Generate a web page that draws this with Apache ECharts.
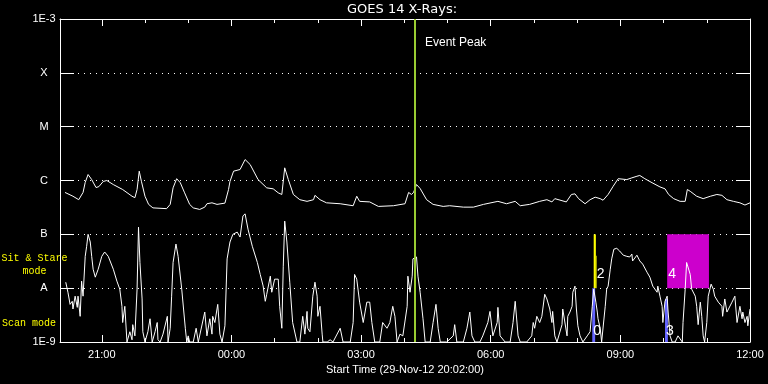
<!DOCTYPE html>
<html>
<head>
<meta charset="utf-8">
<script src="https://cdn.jsdelivr.net/npm/echarts@6/dist/echarts.min.js"></script>
<style>
html,body{margin:0;padding:0;background:#000;}
#main{width:768px;height:384px;}
</style>
</head>
<body>
<div id="main"></div>
<script>
// ---------------- data ----------------
const chartTitle = 'GOES 14 X-Rays:';
const xAxisTitle = 'Start Time (29-Nov-12 20:02:00)';
const startTime = '20:02';
const endTime = '12:00';
const xTickLabels = ['21:00', '00:00', '03:00', '06:00', '09:00', '12:00'];
const yTickValues = [1e-9, 1e-8, 1e-7, 1e-6, 1e-5, 1e-4, 1e-3];
const yTickLabels = ['1E-9', 'A', 'B', 'C', 'M', 'X', '1E-3'];
const eventPeakTime = '04:15';
const eventPeakText = 'Event Peak';
const modeLabels = ['Sit & Stare', 'mode', 'Scan mode'];

// long channel (upper curve), W/m^2
const longTimes = [
 '20:09','20:20','20:28','20:34','20:37','20:41','20:46','20:52','20:56',
 '21:02','21:07','21:16','21:29','21:42','21:46','21:49','21:52','21:55',
 '22:00','22:05','22:11','22:30','22:35','22:39','22:44','22:49','22:55',
 '23:02','23:07','23:16','23:23','23:26','23:33','23:40','23:51','23:56','23:58',
 '00:03','00:12','00:19','00:26','00:37','00:49','00:58',
 '01:05','01:10','01:14','01:19','01:26','01:35','01:45','01:54','01:56',
 '02:03','02:12','02:31','02:49','02:54','02:58',
 '03:12','03:24','03:45',
 '04:01','04:06','04:10','04:13','04:17','04:22','04:31','04:40','04:54',
 '05:03','05:22','05:36','05:50',
 '06:10','06:22','06:34','06:41','06:54',
 '07:08','07:18','07:25','07:29','07:45','07:52','07:57',
 '08:02','08:11','08:18','08:25','08:32','08:36','08:43','08:50','08:57',
 '09:09','09:16','09:23','09:27','09:34','09:44','09:55',
 '10:02','10:07','10:14','10:23','10:30','10:33','10:37','10:46','10:55',
 '11:05','11:14','11:21','11:28','11:37','11:46','11:53','12:00'
];
const longFlux = [
 6.0e-7,5.1e-7,4.4e-7,6.0e-7,9.2e-7,1.29e-6,1.04e-6,7.4e-7,7.7e-7,
 9.6e-7,1.0e-6,8.4e-7,6.8e-7,5.1e-7,4.8e-7,6.8e-7,1.49e-6,9.7e-7,
 5.1e-7,3.6e-7,3.1e-7,3.0e-7,3.6e-7,7.3e-7,1.08e-6,9.1e-7,5.9e-7,
 3.6e-7,3.1e-7,2.9e-7,3.2e-7,3.7e-7,3.85e-7,3.6e-7,3.8e-7,6.8e-7,9.6e-7,
 1.49e-6,1.6e-6,2.45e-6,1.98e-6,1.04e-6,7.3e-7,7.0e-7,
 5.9e-7,5.5e-7,1.72e-6,1.04e-6,5.5e-7,4.4e-7,4.1e-7,4.4e-7,5.3e-7,
 4.4e-7,3.85e-7,3.7e-7,3.4e-7,5.1e-7,4.1e-7,
 4.0e-7,3.3e-7,3.4e-7,
 3.7e-7,6.0e-7,5.5e-7,6.05e-7,8.4e-7,7.1e-7,4.4e-7,3.6e-7,3.3e-7,
 3.4e-7,3.2e-7,3.2e-7,3.6e-7,
 4.1e-7,3.7e-7,4.1e-7,3.4e-7,3.6e-7,
 4.1e-7,4.4e-7,4.0e-7,4.6e-7,4.0e-7,5.5e-7,5.65e-7,
 4.6e-7,3.7e-7,4.4e-7,4.9e-7,4.6e-7,4.3e-7,5.5e-7,7.8e-7,1.08e-6,
 1.04e-6,1.12e-6,1.2e-6,1.24e-6,1.08e-6,9.1e-7,7.6e-7,
 7.0e-7,5.5e-7,4.6e-7,4.1e-7,4.1e-7,6.8e-7,6.3e-7,5.1e-7,4.6e-7,
 5.1e-7,5.5e-7,5.3e-7,4.4e-7,4.1e-7,3.85e-7,3.5e-7,3.85e-7
];

// short channel (lower curve), W/m^2
const shortTimes = [
 '20:10','20:12','20:13','20:16','20:19','20:20','20:23','20:26','20:27','20:30',
 '20:32','20:34','20:37','20:39','20:41','20:44','20:46','20:48','20:51','20:55',
 '21:00','21:04','21:09','21:16','21:21','21:25','21:28','21:29','21:32','21:35',
 '21:39','21:42','21:43','21:46','21:49','21:51','21:53','21:56','21:57',
 '22:00','22:04','22:07','22:10','22:14','22:17','22:18','22:21','22:25','22:31',
 '22:32','22:35','22:37','22:39','22:43','22:46','22:51','22:56','22:58',
 '23:00','23:02','23:07','23:11','23:14','23:16','23:23','23:26','23:30','23:33',
 '23:34','23:37','23:41','23:44','23:47','23:51','23:54','23:58',
 '00:02','00:08','00:12','00:16','00:19','00:23','00:29','00:36','00:40','00:44',
 '00:47','00:49','00:54','00:56',
 '01:00','01:05','01:07','01:10','01:12','01:14','01:17','01:21','01:25','01:31',
 '01:35','01:39','01:42','01:45','01:46','01:49','01:53','01:56','01:59',
 '02:00','02:03','02:06','02:07','02:13','02:17','02:21','02:31','02:35','02:45',
 '02:49','02:51','02:54','02:58',
 '03:03','03:08','03:12','03:15','03:19','03:26','03:30','03:36','03:40','03:44',
 '03:47','03:50','03:54','03:58',
 '04:04','04:05','04:08','04:11','04:12','04:17','04:19','04:22','04:26','04:29',
 '04:36','04:40','04:44','04:47','04:50','04:59',
 '05:08','05:10','05:13','05:22','05:27','05:31','05:34','05:38','05:45','05:49',
 '05:56','05:59',
 '06:03','06:09','06:10','06:13','06:20','06:27','06:31','06:34','06:36','06:38',
 '06:41','06:50','06:57','06:59',
 '07:01','07:04','07:08','07:11','07:15','07:18','07:22','07:25','07:26','07:29',
 '07:32','07:39','07:40','07:46','07:47','07:50','07:53','07:54','07:57','07:59',
 '08:01','08:04','08:08','08:14','08:18','08:21','08:23','08:26','08:28','08:29',
 '08:32','08:34','08:36','08:39','08:41','08:43','08:46','08:48','08:51','08:55',
 '08:59',
 '09:04','09:09','09:13','09:16','09:17','09:23','09:24','09:27','09:31','09:37',
 '09:41','09:45','09:51','09:52','09:55','09:58','09:59',
 '10:02','10:05','10:06','10:09','10:12','10:16','10:20','10:26','10:27','10:30',
 '10:32','10:37','10:39','10:44','10:46','10:48','10:51','10:53','10:55','10:57',
 '11:00','11:02','11:06','11:09','11:11','11:16','11:21','11:22','11:25','11:28',
 '11:35','11:39','11:42','11:46','11:49','11:50','11:53','11:56','11:57','12:00'
];
const shortFlux = [
 1.29e-8,1.35e-8,8.4e-9,5.0e-9,5.7e-9,4.1e-9,7.1e-9,4.4e-9,7.1e-9,3.0e-9,
 1.35e-8,7.1e-9,3.9e-8,6.0e-8,1.0e-7,7.2e-8,3.9e-8,2.25e-8,1.6e-8,2.25e-8,
 3.9e-8,4.7e-8,3.9e-8,2.25e-8,1.35e-8,9.6e-9,4.6e-9,2.3e-9,4.6e-9,1e-9,
 1.55e-9,1.1e-9,2.1e-9,1.3e-9,9.6e-9,1.36e-7,3.0e-8,6.3e-9,1.55e-9,
 1e-9,1.55e-9,2.7e-9,1e-9,1.55e-9,2.3e-9,1.1e-9,1e-9,1.4e-9,3.0e-9,
 1e-9,1.8e-9,7.1e-9,3.0e-8,6.6e-8,3.9e-8,9.6e-9,1.8e-9,1e-9,
 1.3e-9,1e-9,1e-9,1.8e-9,1e-9,1e-9,3.6e-9,1.3e-9,2.7e-9,1.4e-9,
 3.0e-9,2.3e-9,5.0e-9,1.4e-9,1e-9,2.0e-9,3.5e-8,7.2e-8,
 1.0e-7,1.1e-7,8.9e-8,2.2e-7,2.4e-7,1.25e-7,6.0e-8,3.0e-8,1.8e-8,1.1e-8,
 5.7e-9,7.7e-9,1.67e-8,8.4e-9,
 1.47e-8,1.47e-8,4.6e-9,1.8e-9,2.56e-8,1.76e-7,7.2e-8,1.29e-8,2.3e-9,1e-9,
 1e-9,3.0e-9,1.4e-9,3.7e-9,1.8e-9,1.55e-9,7.1e-9,1.29e-8,7.1e-9,
 3.0e-9,4.6e-9,1.4e-9,1e-9,1e-9,1.1e-9,1e-9,1.8e-9,1e-9,1e-9,
 2.3e-9,1.8e-8,1.47e-8,5.5e-9,
 2.3e-9,5.5e-9,5.5e-9,2.3e-9,1e-9,1e-9,2.3e-9,1.8e-9,2.3e-9,4.6e-9,
 3.0e-9,1e-9,1.4e-9,1.3e-9,
 4.6e-9,1.67e-8,8.4e-9,1.67e-8,3.5e-8,3.8e-8,1.67e-8,8.4e-9,2.7e-9,1e-9,
 1e-9,2.3e-9,5.0e-9,1.8e-9,1e-9,1e-9,
 1.3e-9,2.1e-9,1e-9,1e-9,1.8e-9,3.6e-9,1.3e-9,1e-9,1e-9,1.3e-9,
 2.3e-9,3.7e-9,
 1.3e-9,2.3e-9,4.4e-9,1.3e-9,1e-9,1e-9,2.3e-9,5.7e-9,5.5e-9,1.3e-9,
 1e-9,1e-9,1.3e-9,2.3e-9,
 1.8e-9,3.0e-9,2.3e-9,3.0e-9,7.7e-9,6.3e-9,4.1e-9,2.3e-9,3.7e-9,1.3e-9,
 1e-9,2.1e-9,4.1e-9,1.3e-9,3.0e-9,3.6e-9,4.6e-9,8.4e-9,1.09e-8,4.1e-9,
 2.0e-9,1.3e-9,1e-9,1.3e-9,1.55e-9,4.6e-9,9.6e-9,5.5e-9,3.6e-9,2.7e-9,
 1.8e-9,1e-9,1e-9,4.6e-9,9.6e-9,1.09e-8,2.25e-8,3.5e-8,5.3e-8,5.5e-8,
 4.9e-8,
 4.1e-8,3.9e-8,3.8e-8,4.3e-8,3.2e-8,4.1e-8,3.9e-8,3.2e-8,2.8e-8,1.98e-8,
 1.6e-8,1.09e-8,8.4e-9,1.09e-8,7.1e-9,4.6e-9,2.3e-9,
 5.7e-9,7.1e-9,4.1e-9,1.3e-9,1e-9,1e-9,1.3e-9,1e-9,2.3e-9,9.6e-9,
 3.0e-8,1.8e-8,9.6e-9,7.1e-9,4.6e-9,2.1e-9,5.5e-9,3.0e-9,1.3e-9,1e-9,
 2.3e-9,7.1e-9,1.19e-8,9.6e-9,7.1e-9,5.5e-9,4.6e-9,3.0e-9,6.3e-9,3.6e-9,
 5.5e-9,7.1e-9,2.3e-9,4.6e-9,2.7e-9,3.6e-9,2.3e-9,3.0e-9,2.0e-9,4.1e-9
];

// observation bands
const bandNames  = ['0', '2', '2b', '3', '4'];
const bandStart  = ['08:21', '08:23', '08:26', '10:02', '10:05'];
const bandEnd    = ['08:25', '08:26', '08:27', '10:06', '11:03'];
const bandLow    = [1e-9, 1e-8, 1e-8, 1e-9, 1e-8];
const bandHigh   = [1e-8, 1e-7, 4e-8, 6.3e-9, 1e-7];
const bandLabels = ['0', '2', '', '3', '4'];

// ---------------- styles ----------------
const bandStyle = {
  '0':  { color: '#6464ff', labelPos: [1, 36] },
  '2':  { color: '#ffff00', labelPos: [3, 33] },
  '2b': { color: '#ffff00', labelPos: [0, 0] },
  '3':  { color: '#6464ff', labelPos: [1, 25] },
  '4':  { color: '#cc00cc', labelPos: [1, 33] }
};

// ---------------- helpers ----------------
function toHours(s) {
  const p = s.split(':').map(Number);
  let v = p[0] + p[1] / 60;
  if (v < 20) v += 24;
  return v;
}
const xMin = toHours(startTime);
const xMax = toHours(endTime);
const labelVals = xTickLabels.map(toHours);
const majorTicks = labelVals.filter(v => v < xMax);
const minorTicks = [];
for (let h = Math.ceil(xMin); h < xMax; h++) minorTicks.push(h);

const longData = longTimes.map((t, i) => [toHours(t), longFlux[i]]);
const shortData = shortTimes.map((t, i) => [toHours(t), shortFlux[i]]);

const markAreaData = bandNames.map((n, i) => {
  const st = bandStyle[n];
  return [
    {
      xAxis: toHours(bandStart[i]), yAxis: bandHigh[i],
      itemStyle: { color: st.color, opacity: 1, borderWidth: 0 },
      label: {
        show: bandLabels[i] !== '', formatter: bandLabels[i], position: st.labelPos,
        color: '#fff', fontSize: 14, fontFamily: 'Liberation Sans'
      }
    },
    { xAxis: toHours(bandEnd[i]), yAxis: bandLow[i] }
  ];
});

const white = '#ffffff';
const axisFont = { color: white, fontSize: 11, fontFamily: 'Liberation Sans' };
const gridBox = { left: 60, right: 18, top: 19, bottom: 42 };

function xAx(gridIndex, position, tickLen, ticks, showLine, withLabels) {
  const ax = {
    type: 'value', gridIndex, position, min: xMin, max: xMax,
    splitLine: { show: false },
    axisLine: { show: showLine, lineStyle: { color: white, width: 1 } },
    axisTick: { show: true, inside: true, length: tickLen, customValues: ticks,
      lineStyle: { color: white, width: 1 } },
    axisLabel: { show: false }
  };
  if (withLabels) {
    ax.axisLabel = Object.assign({
      show: true, customValues: labelVals, margin: 7,
      formatter: v => {
        const i = labelVals.findIndex(l => Math.abs(l - v) < 1e-6);
        return i >= 0 ? xTickLabels[i] : '';
      }
    }, axisFont);
    ax.name = xAxisTitle;
    ax.nameLocation = 'middle';
    ax.nameGap = 21;
    ax.nameTextStyle = axisFont;
  }
  return ax;
}

const option = {
  backgroundColor: '#000',
  animation: false,
  grid: [Object.assign({}, gridBox), Object.assign({}, gridBox)],
  xAxis: [
    xAx(0, 'bottom', 7, majorTicks, true, true),
    xAx(0, 'top', 7, majorTicks, true, false),
    xAx(1, 'bottom', 4, minorTicks, false, false),
    xAx(1, 'top', 4, minorTicks, false, false)
  ],
  yAxis: [
    {
      type: 'log', logBase: 10, gridIndex: 0, position: 'left', min: 1e-9, max: 1e-3, splitNumber: 6,
      axisLine: { lineStyle: { color: white, width: 1 } },
      axisTick: { inside: true, length: 14, lineStyle: { color: white, width: 1 } },
      axisLabel: Object.assign({
        align: 'center', margin: 16,
        formatter: v => {
          const e = Math.round(Math.log10(v));
          const i = yTickValues.findIndex(t => Math.round(Math.log10(t)) === e);
          return i >= 0 ? yTickLabels[i] : '';
        }
      }, axisFont),
      splitLine: { show: true, lineStyle: { color: white, width: 1, type: [1, 5] } },
      minorTick: { show: false }, minorSplitLine: { show: false }
    },
    {
      type: 'log', logBase: 10, gridIndex: 0, position: 'right', min: 1e-9, max: 1e-3, splitNumber: 6,
      axisLine: { lineStyle: { color: white, width: 1 } },
      axisTick: { inside: true, length: 14, lineStyle: { color: white, width: 1 } },
      axisLabel: { show: false },
      splitLine: { show: false }
    },
    { type: 'log', logBase: 10, gridIndex: 1, min: 1e-9, max: 1e-3, show: false }
  ],
  series: [
    {
      name: 'long', type: 'line', xAxisIndex: 0, yAxisIndex: 0,
      data: longData, showSymbol: false, symbol: 'none', z: 3,
      lineStyle: { color: white, width: 1 },
      markLine: {
        silent: true, symbol: ['none', 'none'], z: 6,
        label: { show: false },
        lineStyle: { color: '#9acd32', width: 2, type: 'solid' },
        data: [{ xAxis: toHours(eventPeakTime) }]
      }
    },
    {
      name: 'short', type: 'line', xAxisIndex: 0, yAxisIndex: 0,
      data: shortData, showSymbol: false, symbol: 'none', z: 3,
      lineStyle: { color: white, width: 1 },
      markArea: { silent: true, z: 1, data: markAreaData }
    }
  ],
  graphic: [
    { type: 'text', left: 403 - 56, top: 3, style: { text: chartTitle, fill: white, font: '13px "DejaVu Sans"' } },
    { type: 'text', left: 425, top: 37, style: { text: eventPeakText, fill: white, font: '12px "Liberation Sans"' } },
    { type: 'text', x: 34.5, y: 258.5, style: { text: modeLabels[0], fill: '#ffff00', font: '10px "Liberation Mono"', textAlign: 'center', textVerticalAlign: 'middle' } },
    { type: 'text', x: 34.5, y: 271, style: { text: modeLabels[1], fill: '#ffff00', font: '10px "Liberation Mono"', textAlign: 'center', textVerticalAlign: 'middle' } },
    { type: 'text', x: 2, y: 323.5, style: { text: modeLabels[2], fill: '#ffff00', font: '10px "Liberation Mono"', textAlign: 'left', textVerticalAlign: 'middle' } }
  ]
};

const chart = echarts.init(document.getElementById('main'), null, { renderer: 'canvas' });
chart.setOption(option);
</script>
</body>
</html>
